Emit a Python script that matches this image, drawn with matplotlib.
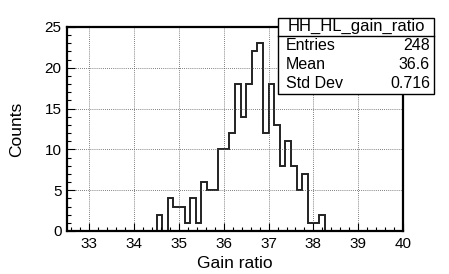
import numpy as np
import matplotlib
matplotlib.use("Agg")
import matplotlib.pyplot as plt
from matplotlib.patches import Rectangle
from matplotlib.ticker import MultipleLocator

plt.rcParams['font.family'] = ['Liberation Sans', 'DejaVu Sans']

# Histogram: 60 bins from 32.5 to 40
x_min, x_max, n_bins = 32.5, 40.0, 60
counts = [0]*16 + [2, 0, 4, 3, 3, 1, 4, 1, 6, 5, 5, 10, 10, 12, 18, 14, 18, 22, 23,
                   12, 18, 13, 8, 11, 8, 5, 7, 1, 1, 2] + [0]*14
edges = np.linspace(x_min, x_max, n_bins + 1)

stat_title = "HH_HL_gain_ratio"
stat_labels = ["Entries", "Mean", "Std Dev"]
stat_values = ["248", "36.6", "0.716"]

fig = plt.figure(figsize=(4.49, 2.74), dpi=100)
ax = fig.add_axes([67/449, 1-231/274, (403-67)/449, (231-27)/274])

ax.stairs(counts, edges, color='#222222', linewidth=1.4)
ax.set_xlim(x_min, x_max)
ax.set_ylim(0, 25)

ax.xaxis.set_major_locator(MultipleLocator(1))
ax.xaxis.set_minor_locator(MultipleLocator(0.2))
ax.yaxis.set_major_locator(MultipleLocator(5))
ax.yaxis.set_minor_locator(MultipleLocator(1))
ax.tick_params(which='both', direction='in', top=False, right=False, labelsize=11, width=0.8)
ax.tick_params(which='major', length=6, pad=4)
ax.tick_params(which='minor', length=3)
ax.grid(True, which='major', linestyle=(0, (1, 1.5)), color='#555555', linewidth=0.6)
for s in ax.spines.values():
    s.set_linewidth(1.6)

ax.set_xlabel("Gain ratio", fontsize=12.5)
ax.set_ylabel("Counts", fontsize=12.5)
ax.xaxis.set_label_coords(0.5, -0.125)
ax.yaxis.set_label_coords(-0.128, 0.5)

# Stats box
L, R, T, B = 278/449, 434/449, 1-17.5/274, 1-93.5/274
sep = 1-36/274
fig.patches.append(Rectangle((L, B), R-L, T-B, transform=fig.transFigure,
                             facecolor='white', edgecolor='black', linewidth=1.0, zorder=10))
fig.add_artist(plt.Line2D([L, R], [sep, sep], transform=fig.transFigure, color='black', linewidth=1.0, zorder=11))
fig.text((L+R)/2, (T+sep)/2, stat_title, ha='center', va='center', fontsize=12, zorder=12)
row_h = (sep - B)/3
for i, (lab, val) in enumerate(zip(stat_labels, stat_values)):
    y = sep - row_h*(i+0.5)
    fig.text(L + 8/449, y, lab, ha='left', va='center', fontsize=11.5, zorder=12)
    fig.text(R - 4/449, y, val, ha='right', va='center', fontsize=11.5, zorder=12)

fig.savefig("out.png", dpi=100)
